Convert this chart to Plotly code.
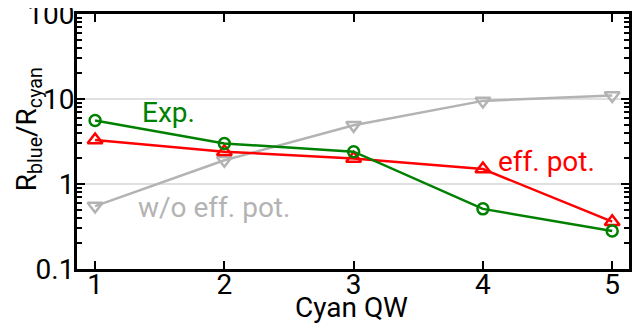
import plotly.graph_objects as go

qw = [1, 2, 3, 4, 5]
exp_vals = [5.6, 3.0, 2.4, 0.51, 0.28]
eff_vals = [3.3, 2.4, 2.0, 1.5, 0.36]
woeff_vals = [0.55, 1.9, 4.9, 9.5, 11.0]
y_tick_vals = [0.1, 1, 10, 100]
y_tick_text = ["0.1", "1", "10", "100"]

GREEN = "#008000"
RED = "#ff0000"
GRAY = "#b3b3b3"
FONT = "Roboto"
FS = 28

fig = go.Figure()
fig.add_trace(go.Scatter(x=qw, y=woeff_vals, mode="lines+markers",
                         line=dict(color=GRAY, width=2.5),
                         marker=dict(symbol="triangle-down-open", size=13, color=GRAY, line=dict(width=2.5))))
fig.add_trace(go.Scatter(x=qw, y=eff_vals, mode="lines+markers",
                         line=dict(color=RED, width=2.5),
                         marker=dict(symbol="triangle-up-open", size=13, color=RED, line=dict(width=2.5))))
fig.add_trace(go.Scatter(x=qw, y=exp_vals, mode="lines+markers",
                         line=dict(color=GREEN, width=2.5),
                         marker=dict(symbol="circle-open", size=11, color=GREEN, line=dict(width=2.5))))

fig.add_annotation(x=1.35, y=0.84, text="Exp.", showarrow=False, xanchor="left", yanchor="middle",
                   font=dict(family=FONT, size=FS, color=GREEN))
fig.add_annotation(x=4.1, y=0.27, text="eff. pot.", showarrow=False, xanchor="left", yanchor="middle",
                   font=dict(family=FONT, size=FS, color=RED))
fig.add_annotation(x=1.32, y=-0.28, text="w/o eff. pot.", showarrow=False, xanchor="left", yanchor="middle",
                   font=dict(family=FONT, size=FS, color=GRAY))
# axis titles
fig.add_annotation(xref="paper", yref="paper", x=0.498, y=-0.15, text="Cyan QW", showarrow=False,
                   xanchor="center", yanchor="middle", font=dict(family=FONT, size=FS, color="black"))
fig.add_annotation(xref="paper", yref="paper", x=-0.088, y=0.55, text="R<sub>blue</sub>/R<sub>cyan</sub>",
                   showarrow=False, textangle=-90, xanchor="center", yanchor="middle",
                   font=dict(family=FONT, size=FS, color="black"))

fig.update_layout(
    width=642, height=328,
    margin=dict(l=69, r=21, t=6, b=67, autoexpand=False),
    paper_bgcolor="white", plot_bgcolor="white",
    showlegend=False,
    font=dict(family=FONT, size=FS, color="black"),
    xaxis=dict(range=[0.86, 5.13], tickvals=qw, ticktext=[str(v) for v in qw],
               ticks="inside", ticklen=8, tickwidth=2, tickcolor="black",
               showline=True, linecolor="black", linewidth=3, mirror="ticks",
               showgrid=False, zeroline=False, automargin=False,
               ticklabelstandoff=-12,
               tickfont=dict(family=FONT, size=FS, color="black")),
    yaxis=dict(type="log", range=[-1, 2], tickvals=y_tick_vals, ticktext=y_tick_text,
               ticks="inside", ticklen=8, tickwidth=2, tickcolor="black",
               showline=True, linecolor="black", linewidth=3, mirror="ticks",
               showgrid=True, gridcolor="#e0e0e0", gridwidth=1.5, zeroline=False, automargin=False,
               ticklabelstandoff=-6, ticklabeloverflow="allow",
               minor=dict(ticks="inside", ticklen=5, tickwidth=2, tickcolor="black", dtick="D1", showgrid=False),
               tickfont=dict(family=FONT, size=FS, color="black")),
)

fig.write_html("out.html")
